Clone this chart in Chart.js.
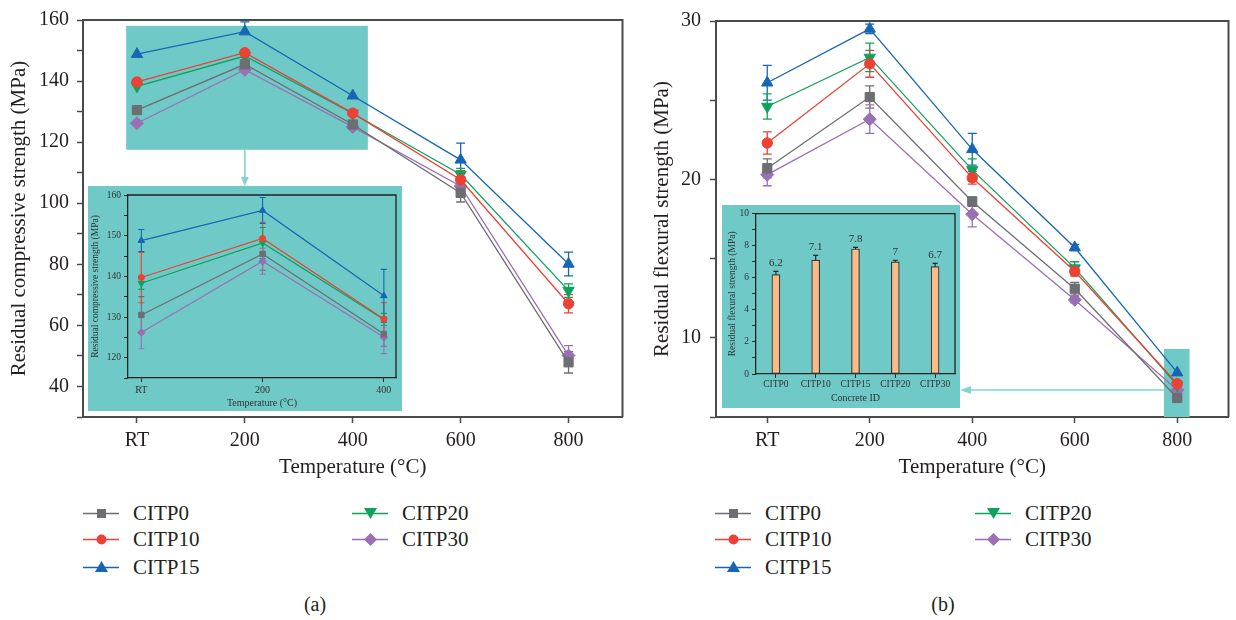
<!DOCTYPE html>
<html>
<head>
<meta charset="utf-8">
<script src="https://cdn.jsdelivr.net/npm/chart.js@4"></script>
<style>
  body { margin: 0; background: #fff; }
  #wrap { position: relative; width: 1236px; height: 620px; overflow: hidden;
          font-family: "Liberation Serif", "DejaVu Serif", serif; color: #231f20; }
  .box { position: absolute; }
  .inset { position: absolute; background: #6fc9c6; }
  .item { position: absolute; display: flex; align-items: center; white-space: nowrap; font-size: 21px; height: 24px; }
  .item svg { margin-right: 14px; }
  .cap { position: absolute; font-size: 20px; transform: translateX(-50%); }
</style>
</head>
<body>
<div id="wrap">
  <div class="box" style="left:0;top:0;width:630px;height:480px"><canvas id="compMain"></canvas></div>
  <div class="box" style="left:636px;top:0;width:600px;height:480px"><canvas id="flexMain"></canvas></div>
  <div class="inset" style="left:88px;top:186px;width:314px;height:225px"><canvas id="compInset"></canvas></div>
  <div class="inset" style="left:722px;top:205px;width:238px;height:203px"><canvas id="flexInset"></canvas></div>
  <div id="legA"></div>
  <div id="legB"></div>
  <div class="cap" style="left:315px;top:593px">(a)</div>
  <div class="cap" style="left:943px;top:593px">(b)</div>
</div>
<script>
// categories
const temps = ['RT', '200', '400', '600', '800'];
const mixes = ['CITP0', 'CITP10', 'CITP15', 'CITP20', 'CITP30'];

// residual compressive strength (MPa), one row per mix
const compMean = [
  [130.5, 145.5, 125.8, 103.4, 47.9],
  [139.7, 149.3, 129.5, 107.7, 67.1],
  [148.8, 156.2, 135.2, 114.2, 80.1],
  [138.3, 148.2, 129.4, 109.4, 71.4],
  [126.2, 143.7, 125.0, 105.6, 50.1]
];
const compErr = [
  [4.5, 4.0, 3.0, 3.0, 3.5],
  [6.2, 4.0, 4.0, 3.0, 3.0],
  [2.7, 3.2, 6.5, 5.5, 3.9],
  [1.5, 3.8, 1.5, 2.0, 2.2],
  [4.0, 3.2, 4.0, 3.0, 3.3]
];

// residual flexural strength (MPa), one row per mix
const flexMean = [
  [20.7, 25.2, 18.6, 13.1, 6.2],
  [22.3, 27.3, 20.1, 14.2, 7.1],
  [26.1, 29.5, 21.9, 15.7, 7.8],
  [24.6, 27.7, 20.6, 14.4, 7.0],
  [20.3, 23.8, 17.8, 12.4, 6.7]
];
const flexErr = [
  [0.6, 0.7, 0.3, 0.4, 0.2],
  [0.7, 0.85, 0.4, 0.3, 0.3],
  [1.1, 0.3, 1.0, 0.2, 0.1],
  [0.8, 0.9, 0.7, 0.4, 0.1],
  [0.7, 0.9, 0.8, 0.2, 0.2]
];

// insets: first three temperatures of (a), the 800 °C column of (b)
const insetTemps = temps.slice(0, 3);
const flex800 = flexMean.map(r => r[4]);
const flex800Err = flexErr.map(r => r[4]);

// styles
const colors = ['#6d6e71', '#ec4134', '#1766b5', '#0ea25d', '#9b6fb4'];
const markers = ['rect', 'circle', 'triangle', 'triangle', 'rectRot'];
const rotations = [0, 0, 0, 180, 0];
const teal = '#6fc9c6';
const arrowColor = '#86d3d1';
const axisColor = '#4a4a4a';
const textColor = '#231f20';
const serif = '"Liberation Serif", "DejaVu Serif", serif';

Chart.defaults.font.family = serif;
Chart.defaults.color = textColor;
Chart.defaults.animation = false;

// box line on top and right of the plot area
const frame = {
  id: 'frame',
  afterDraw(chart, args, o) {
    const { ctx, chartArea: a } = chart;
    ctx.save();
    ctx.strokeStyle = o.color;
    ctx.lineWidth = o.width;
    ctx.beginPath();
    ctx.moveTo(a.left, a.top);
    ctx.lineTo(a.right, a.top);
    ctx.lineTo(a.right, a.bottom);
    ctx.stroke();
    ctx.restore();
  }
};

// vertical error bars from the errs option
const errorBars = {
  id: 'errorBars',
  beforeDatasetsDraw(chart, args, o) {
    if (!o.errs) return;
    const { ctx } = chart;
    const y = chart.scales.y;
    chart.data.datasets.forEach((ds, di) => {
      const meta = chart.getDatasetMeta(di);
      ctx.save();
      ctx.strokeStyle = o.color || ds.borderColor;
      ctx.lineWidth = o.width;
      meta.data.forEach((el, i) => {
        const v = meta.controller.getParsed(i).y;
        const e = o.errs[di][i];
        const top = y.getPixelForValue(v + e);
        const bot = y.getPixelForValue(v - e);
        ctx.beginPath();
        ctx.moveTo(el.x, top); ctx.lineTo(el.x, bot);
        ctx.moveTo(el.x - o.cap, top); ctx.lineTo(el.x + o.cap, top);
        ctx.moveTo(el.x - o.cap, bot); ctx.lineTo(el.x + o.cap, bot);
        ctx.stroke();
      });
      ctx.restore();
    });
  },
  afterDatasetsDraw(chart, args, o) {
    if (!o.labels) return;
    const { ctx } = chart;
    const y = chart.scales.y;
    const meta = chart.getDatasetMeta(0);
    ctx.save();
    ctx.fillStyle = '#333';
    ctx.font = '11px ' + serif;
    ctx.textAlign = 'center';
    ctx.textBaseline = 'bottom';
    meta.data.forEach((el, i) => {
      const v = meta.controller.getParsed(i).y;
      ctx.fillText(String(v), el.x, y.getPixelForValue(v + o.errs[0][i]) - 3);
    });
    ctx.restore();
  }
};

// teal highlight box and arrow pointing to the inset
const callout = {
  id: 'callout',
  beforeDatasetsDraw(chart, args, o) {
    if (!o.box) return;
    const { ctx, scales: { x, y }, chartArea: a } = chart;
    const l = x.getPixelForValue(o.box.x0), r = x.getPixelForValue(o.box.x1);
    const t = y.getPixelForValue(o.box.y1), b = Math.min(a.bottom, y.getPixelForValue(o.box.y0));
    ctx.save();
    ctx.fillStyle = teal;
    ctx.fillRect(l, t, r - l, b - t);
    ctx.restore();
  },
  afterDraw(chart, args, o) {
    if (!o.box) return;
    const { ctx, scales: { x, y } } = chart;
    ctx.save();
    ctx.strokeStyle = arrowColor;
    ctx.fillStyle = arrowColor;
    ctx.lineWidth = 1.6;
    ctx.beginPath();
    if (o.arrow.dir === 'down') {
      const ax = x.getPixelForValue(o.arrow.at);
      const y0 = y.getPixelForValue(o.box.y0);
      const y1 = o.arrow.end;
      ctx.moveTo(ax, y0); ctx.lineTo(ax, y1 - 8); ctx.stroke();
      ctx.beginPath();
      ctx.moveTo(ax - 4, y1 - 9); ctx.lineTo(ax + 4, y1 - 9); ctx.lineTo(ax, y1); ctx.closePath(); ctx.fill();
    } else {
      const ay = y.getPixelForValue(o.arrow.at);
      const x0 = x.getPixelForValue(o.box.x0);
      const x1 = o.arrow.end;
      ctx.moveTo(x0, ay); ctx.lineTo(x1 + 10, ay); ctx.stroke();
      ctx.beginPath();
      ctx.moveTo(x1 + 11, ay - 4); ctx.lineTo(x1 + 11, ay + 4); ctx.lineTo(x1, ay); ctx.closePath(); ctx.fill();
    }
    ctx.restore();
  }
};

function lineSets(means, r, xy, n) {
  return mixes.map((m, i) => ({
    label: m,
    data: xy ? means[i].slice(0, n).map((v, k) => ({ x: k, y: v })) : means[i],
    borderColor: colors[i],
    backgroundColor: colors[i],
    borderWidth: xy ? 1.2 : 1.3,
    pointStyle: markers[i],
    pointRotation: rotations[i],
    pointRadius: markers[i] === 'circle' ? r * 0.8 : r,
    pointBorderWidth: 1,
    tension: 0,
    clip: false
  }));
}

function mainOptions(c) {
  return {
    responsive: true,
    maintainAspectRatio: false,
    animation: false,
    layout: { padding: { left: 0, top: 16, right: c.padRight, bottom: 0 } },
    plugins: {
      legend: { display: false },
      tooltip: { enabled: false },
      frame: { color: axisColor, width: 2 },
      errorBars: { errs: c.errs, width: 1.3, cap: 4.5 },
      callout: { box: c.box, arrow: c.arrow }
    },
    scales: {
      x: {
        type: 'category',
        offset: true,
        grid: { offset: false, drawOnChartArea: false, tickLength: 6, tickColor: axisColor, tickWidth: 1.5 },
        border: { color: axisColor, width: 2 },
        ticks: { font: { size: 20 }, padding: 6, color: textColor },
        title: { display: true, text: 'Temperature (°C)', font: { size: 21 }, padding: 0, color: textColor },
        afterFit: s => { s.height = 63; }
      },
      y: {
        min: c.min, max: c.max,
        grid: { drawOnChartArea: false, tickLength: 6, tickColor: axisColor, tickWidth: 1.5 },
        border: { color: axisColor, width: 2 },
        ticks: { stepSize: c.step, autoSkip: false, font: { size: 20 }, padding: c.tickPad, color: textColor,
                 callback: v => (v % c.labelEvery === 0 && v > c.min ? v : '') },
        title: { display: true, text: c.title, font: { size: 21 }, padding: { top: c.titlePad, bottom: 0 }, color: textColor },
        afterFit: s => { s.width = c.yWidth; }
      }
    }
  };
}

new Chart(document.getElementById('compMain'), {
  type: 'line',
  data: { labels: temps, datasets: lineSets(compMean, 6.5) },
  options: mainOptions({
    padRight: 7, yWidth: 83, min: 30, max: 160, step: 10, labelEvery: 20, tickPad: 8, titlePad: 7,
    title: 'Residual compressive strength (MPa)', errs: compErr,
    box: { x0: -0.1, x1: 2.14, y0: 117.5, y1: 158.1 },
    arrow: { dir: 'down', at: 1, end: 186 }
  }),
  plugins: [frame, errorBars, callout]
});

new Chart(document.getElementById('flexMain'), {
  type: 'line',
  data: { labels: temps, datasets: lineSets(flexMean, 6.5) },
  options: mainOptions({
    padRight: 1, yWidth: 80, min: 5, max: 30, step: 5, labelEvery: 10, tickPad: 9, titlePad: 14,
    title: 'Residual flexural strength (MPa)', errs: flexErr,
    box: { x0: 3.87, x1: 4.12, y0: 5, y1: 9.3 },
    arrow: { dir: 'left', at: 6.7, end: 960 - 636 }
  }),
  plugins: [frame, errorBars, callout]
});

function insetScales(c) {
  return {
    grid: { drawOnChartArea: false, tickLength: 4, tickColor: '#222', tickWidth: 1 },
    border: { color: '#222', width: 1.3 }
  };
}

new Chart(document.getElementById('compInset'), {
  type: 'line',
  data: { datasets: lineSets(compMean, 3.8, true, 3) },
  options: {
    responsive: true, maintainAspectRatio: false, animation: false,
    layout: { padding: { left: 0, top: 9, right: 6, bottom: 0 } },
    plugins: {
      legend: { display: false }, tooltip: { enabled: false },
      frame: { color: '#222', width: 1.3 },
      errorBars: { errs: compErr, width: 1.1, cap: 3 }
    },
    scales: {
      x: {
        type: 'linear', min: -0.11, max: 2.1,
        ...insetScales(),
        afterBuildTicks: s => { s.ticks = insetTemps.map((t, i) => ({ value: i })); },
        ticks: { font: { size: 10 }, padding: 2, color: '#333', callback: v => insetTemps[v] },
        title: { display: true, text: 'Temperature (°C)', font: { size: 10 }, padding: { top: 0, bottom: 2 }, color: '#333' },
        afterFit: s => { s.height = 33; }
      },
      y: {
        min: 115, max: 160,
        ...insetScales(),
        ticks: { stepSize: 5, autoSkip: false, font: { size: 9.5 }, padding: 3, color: '#333',
                 callback: v => (v % 10 === 0 ? v : '') },
        title: { display: true, text: 'Residual compressive strength (MPa)', font: { size: 9.5 }, padding: { top: 1.5, bottom: 0 }, color: '#333' },
        afterFit: s => { s.width = 40; }
      }
    }
  },
  plugins: [frame, errorBars]
});

new Chart(document.getElementById('flexInset'), {
  type: 'bar',
  data: {
    labels: mixes,
    datasets: [{ data: flex800, backgroundColor: '#f8bb89', borderColor: '#3a3a3a', borderWidth: 1.2, barThickness: 8, borderSkipped: false }]
  },
  options: {
    responsive: true, maintainAspectRatio: false, animation: false,
    layout: { padding: { left: 0, top: 6, right: 5, bottom: 0 } },
    plugins: {
      legend: { display: false }, tooltip: { enabled: false },
      frame: { color: '#222', width: 1.3 },
      errorBars: { errs: [flex800Err], color: '#222', width: 1.1, cap: 2.5, labels: true }
    },
    scales: {
      x: {
        offset: true,
        grid: { offset: false, drawOnChartArea: false, tickLength: 4, tickColor: '#222', tickWidth: 1 },
        border: { color: '#222', width: 1.3 },
        ticks: { font: { size: 9.5 }, padding: 1, color: '#333', autoSkip: false, maxRotation: 0 },
        title: { display: true, text: 'Concrete ID', font: { size: 10 }, padding: { top: 0, bottom: 3.5 }, color: '#333' },
        afterFit: s => { s.height = 34; }
      },
      y: {
        min: 0, max: 10,
        ...insetScales(),
        ticks: { stepSize: 1, autoSkip: false, font: { size: 9.5 }, padding: 3, color: '#333',
                 callback: v => (v % 2 === 0 ? v : '') },
        title: { display: true, text: 'Residual flexural strength (MPa)', font: { size: 9.5 }, padding: { top: 4.5, bottom: 0 }, color: '#333' },
        afterFit: s => { s.width = 34; }
      }
    }
  },
  plugins: [frame, errorBars]
});

// html legends, two columns
function markerSvg(i) {
  const c = colors[i];
  let shape = '';
  if (markers[i] === 'rect') shape = `<rect x="14" y="4" width="9" height="9" fill="${c}"/>`;
  else if (markers[i] === 'circle') shape = `<circle cx="18.5" cy="8.5" r="5" fill="${c}"/>`;
  else if (rotations[i] === 180) shape = `<polygon points="12,3 25,3 18.5,14" fill="${c}"/>`;
  else if (markers[i] === 'triangle') shape = `<polygon points="18.5,2 25,13 12,13" fill="${c}"/>`;
  else shape = `<polygon points="18.5,2 25,8.5 18.5,15 12,8.5" fill="${c}"/>`;
  return `<svg width="36" height="17"><line x1="0" y1="8.5" x2="36" y2="8.5" stroke="${c}" stroke-width="1.6"/>${shape}</svg>`;
}
function buildLegend(id, colX) {
  const rows = [501, 527, 555];
  const slots = [[0, 0], [0, 1], [0, 2], [1, 0], [1, 1]];
  document.getElementById(id).innerHTML = mixes.map((m, i) =>
    `<div class="item" style="left:${colX[slots[i][0]]}px;top:${rows[slots[i][1]]}px">${markerSvg(i)}<span>${m}</span></div>`
  ).join('');
}
buildLegend('legA', [83, 352]);
buildLegend('legB', [715, 975]);
</script>
</body>
</html>
